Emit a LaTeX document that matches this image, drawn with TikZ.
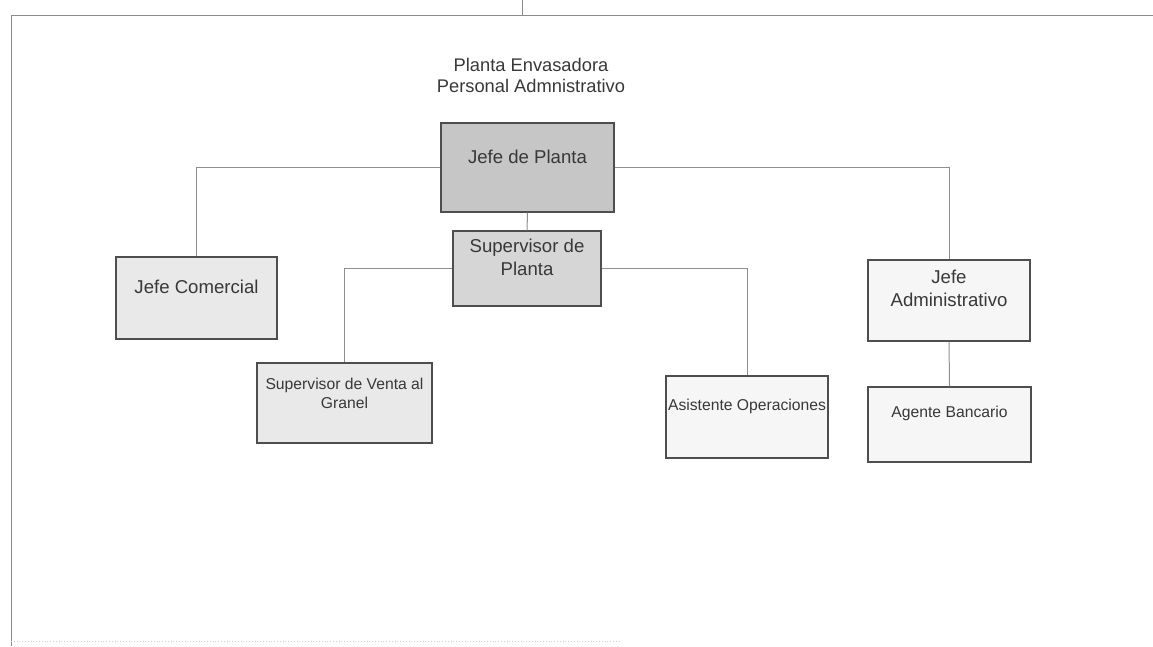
\documentclass[tikz,border=0pt]{standalone}
\usepackage{fontspec}
\setmainfont{Liberation Sans}
\definecolor{frameline}{HTML}{8A8A8A}
\definecolor{linkline}{HTML}{8E8E8E}
\definecolor{boxline}{HTML}{4E4E4E}
\definecolor{inktext}{HTML}{383838}
\definecolor{fillA}{HTML}{C6C6C6}
\definecolor{fillB}{HTML}{D6D6D6}
\definecolor{fillC}{HTML}{E9E9E9}
\definecolor{fillD}{HTML}{F6F6F6}
\begin{document}
\begin{tikzpicture}[x=1pt,y=-1pt,
  orgbox/.style={draw=boxline, line width=1.3pt, inner sep=0pt, rectangle},
  biglbl/.style={inner sep=0pt, text=inktext, align=center,
    font=\fontsize{18.6}{22.5}\selectfont},
  smalllbl/.style={inner sep=0pt, text=inktext, align=center,
    font=\fontsize{15.7}{19}\selectfont},
  link/.style={draw=linkline, line width=1pt},
  frame/.style={draw=frameline, line width=1pt}]
\useasboundingbox (0,0) rectangle (1153,646);

% page frame
\draw[frame] (11,15) -- (1153,15);
\draw[frame] (11,15) -- (11,646);
\draw[frame] (522,0) -- (522,15);
\draw[draw=frameline!40, line width=0.8pt, dotted] (11,641) -- (620,641);

% title
\node[biglbl, font=\fontsize{18.3}{21}\selectfont] (title) at (531,75.5)
  {Planta Envasadora\\Personal Admnistrativo};

% boxes
\node[orgbox, fill=fillA, minimum width=173pt, minimum height=89pt] (jp) at (527.5,167.5) {};
\node[orgbox, fill=fillB, minimum width=148pt, minimum height=75pt] (sp) at (527,268.5) {};
\node[orgbox, fill=fillC, minimum width=161pt, minimum height=82pt] (jc) at (196.5,298) {};
\node[orgbox, fill=fillD, minimum width=162pt, minimum height=81pt] (ja) at (949,300.5) {};
\node[orgbox, fill=fillC, minimum width=175pt, minimum height=80pt] (sv) at (344.5,403) {};
\node[orgbox, fill=fillD, minimum width=162pt, minimum height=82pt] (ao) at (747,417) {};
\node[orgbox, fill=fillD, minimum width=163pt, minimum height=75pt] (ab) at (949.5,424.5) {};

% labels
\node[biglbl] (jpt) at (527.5,157) {Jefe de Planta};
\node[biglbl] (spt) at (527,257.5) {Supervisor de\\Planta};
\node[biglbl] (jct) at (196.5,287) {Jefe Comercial};
\node[biglbl] (jat) at (949,288.5) {Jefe\\Administrativo};
\node[smalllbl] (svt) at (344.5,393.5) {Supervisor de Venta al\\Granel};
\node[smalllbl] (aot) at (747,406.5) {Asistente Operaciones};
\node[smalllbl] (abt) at (949.5,413.5) {Agente Bancario};

% connectors
\draw[link] (jp.west) -| (jc.north);
\draw[link] (jp.east) -| (ja.north);
\draw[link] (jp.south) -- (sp.north);
\draw[link] (sp.west) -| (sv.north);
\draw[link] (sp.east) -| (ao.north);
\draw[link] (ja.south) -- (ab.north);
\end{tikzpicture}
\end{document}
